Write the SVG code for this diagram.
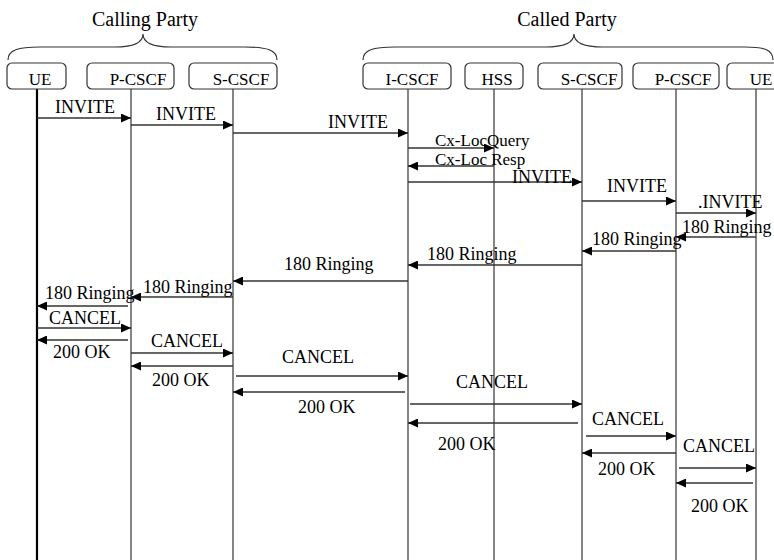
<svg xmlns="http://www.w3.org/2000/svg" width="774" height="560" viewBox="0 0 774 560">
<style>
text{font-family:'Liberation Serif','Times New Roman','DejaVu Serif',serif;fill:#000}
.title{font-size:20px}
.nt{font-size:17px}
.lb{font-size:18px}
.cx{font-size:17px}
.box{fill:#fff;stroke:#333;stroke-width:1.2}
.life{stroke:#333;stroke-width:1.2}
.msg{stroke:#333;stroke-width:1.3;marker-end:url(#ah)}
.brace{fill:none;stroke:#333;stroke-width:1.2}
.m{text-anchor:middle}
</style>
<defs>
<marker id="ah" markerUnits="userSpaceOnUse" markerWidth="11" markerHeight="9" refX="10" refY="4.5" orient="auto">
<path d="M0,0 L10,4.5 L0,9 z" fill="#000"/>
</marker>
</defs>
<rect width="774" height="560" fill="#fff"/>
<g id="calling-party">
<text class="title m" x="145" y="26">Calling Party</text>
<path class="brace" d="M8 60 C8 50 18 47 40 47 L115 47 C133 47 143 43 143 34 C143 43 153 47 171 47 L245 47 C267 47 277 50 277 60"/>
</g>
<g id="called-party">
<text class="title m" x="567" y="26">Called Party</text>
<path class="brace" d="M363 60 C363 50 373 47 395 47 L545 47 C564 47 574 43 574 34 C574 43 584 47 603 47 L745 47 C765 47 773 50 773 60"/>
</g>
<g id="lifelines">
<line x1="37" y1="89" x2="37" y2="560" stroke="#000" stroke-width="2.2"/>
<line class="life" x1="131" y1="89" x2="131" y2="560"/>
<line class="life" x1="233" y1="89" x2="233" y2="560"/>
<line class="life" x1="408" y1="89" x2="408" y2="560"/>
<line class="life" x1="494" y1="89" x2="494" y2="560"/>
<line class="life" x1="582" y1="89" x2="582" y2="560"/>
<line class="life" x1="676" y1="89" x2="676" y2="560"/>
<line class="life" x1="756" y1="89" x2="756" y2="560"/>
</g>
<g id="ue1"><rect class="box" x="7" y="63" width="59" height="26" rx="5"/><text class="nt m" x="40" y="85">UE</text></g>
<g id="pcscf1"><rect class="box" x="87" y="63" width="87" height="26" rx="5"/><text class="nt m" x="138" y="85">P-CSCF</text></g>
<g id="scscf1"><rect class="box" x="189" y="63" width="88" height="26" rx="5"/><text class="nt m" x="241" y="85">S-CSCF</text></g>
<g id="icscf"><rect class="box" x="363" y="63" width="88" height="26" rx="5"/><text class="nt m" x="412" y="85">I-CSCF</text></g>
<g id="hss"><rect class="box" x="465" y="63" width="58" height="26" rx="5"/><text class="nt m" x="497" y="85">HSS</text></g>
<g id="scscf2"><rect class="box" x="538" y="63" width="84" height="26" rx="5"/><text class="nt m" x="589" y="85">S-CSCF</text></g>
<g id="pcscf2"><rect class="box" x="633" y="63" width="86" height="26" rx="5"/><text class="nt m" x="683" y="85">P-CSCF</text></g>
<g id="ue2"><rect class="box" x="727" y="63" width="60" height="26" rx="5"/><text class="nt m" x="761" y="85">UE</text></g>
<g id="connectors">
<line class="msg" x1="37" y1="118" x2="131" y2="118"/><text class="lb m" x="85" y="113">INVITE</text>
<line class="msg" x1="131" y1="125" x2="233" y2="125"/><text class="lb m" x="186" y="120">INVITE</text>
<line class="msg" x1="233" y1="133" x2="408" y2="133"/><text class="lb m" x="358" y="128">INVITE</text>
<line class="msg" x1="408" y1="148" x2="494" y2="148"/><text class="cx" x="435" y="146">Cx-LocQuery</text>
<line class="msg" x1="494" y1="166" x2="408" y2="166"/><text class="cx" x="435" y="165">Cx-Loc Resp</text>
<line class="msg" x1="408" y1="182" x2="582" y2="182"/><text class="lb" x="512" y="183">INVITE</text>
<line class="msg" x1="582" y1="201" x2="676" y2="201"/><text class="lb m" x="637" y="192">INVITE</text>
<line class="msg" x1="676" y1="213" x2="756" y2="213"/><text class="lb" x="698" y="208">.INVITE</text>
<line class="msg" x1="756" y1="237" x2="676" y2="237"/><text class="lb" x="682" y="233">180 Ringing</text>
<line class="msg" x1="676" y1="251" x2="582" y2="251"/><text class="lb" x="592" y="245">180 Ringing</text>
<line class="msg" x1="582" y1="265" x2="408" y2="265"/><text class="lb" x="427" y="260">180 Ringing</text>
<line class="msg" x1="408" y1="281" x2="233" y2="281"/><text class="lb" x="284" y="270">180 Ringing</text>
<line class="msg" x1="233" y1="297" x2="131" y2="297"/><text class="lb" x="143" y="293">180 Ringing</text>
<line class="msg" x1="128" y1="306" x2="37" y2="306"/><text class="lb" x="45" y="299">180 Ringing</text>
<line class="msg" x1="37" y1="328" x2="131" y2="328"/><text class="lb m" x="85" y="324">CANCEL</text>
<line class="msg" x1="128" y1="340" x2="37" y2="340"/><text class="lb" x="53" y="358">200 OK</text>
<line class="msg" x1="131" y1="353" x2="233" y2="353"/><text class="lb m" x="187" y="347">CANCEL</text>
<line class="msg" x1="233" y1="366" x2="131" y2="366"/><text class="lb" x="152" y="386">200 OK</text>
<line class="msg" x1="236" y1="376" x2="408" y2="376"/><text class="lb" x="282" y="363">CANCEL</text>
<line class="msg" x1="405" y1="392" x2="233" y2="392"/><text class="lb" x="298" y="413">200 OK</text>
<line class="msg" x1="410" y1="404" x2="582" y2="404"/><text class="lb" x="456" y="388">CANCEL</text>
<line class="msg" x1="578" y1="423" x2="408" y2="423"/><text class="lb" x="438" y="450">200 OK</text>
<line class="msg" x1="586" y1="436" x2="676" y2="436"/><text class="lb" x="592" y="425">CANCEL</text>
<line class="msg" x1="676" y1="453" x2="582" y2="453"/><text class="lb" x="598" y="475">200 OK</text>
<line class="msg" x1="679" y1="468" x2="756" y2="468"/><text class="lb" x="683" y="452">CANCEL</text>
<line class="msg" x1="753" y1="483" x2="676" y2="483"/><text class="lb" x="691" y="512">200 OK</text>
</g>
</svg>
